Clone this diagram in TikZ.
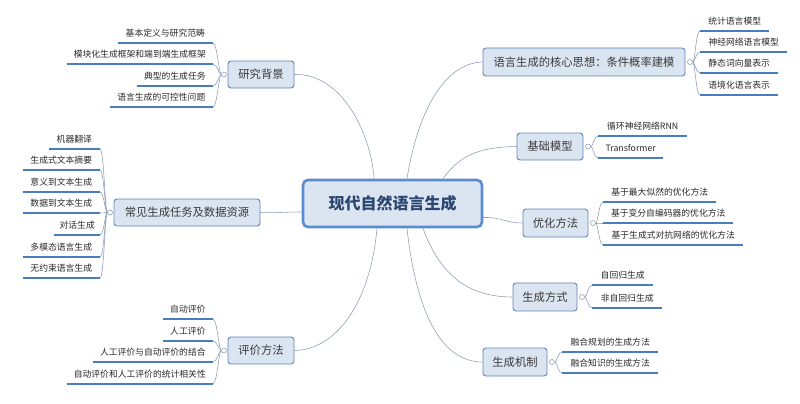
\documentclass[tikz,border=0pt]{standalone}
\usepackage{fontspec}
\setmainfont{Noto Sans CJK SC}
\usetikzlibrary{calc}
\definecolor{boxfill}{HTML}{DBE5F1}
\definecolor{boxline}{HTML}{5F86BA}
\definecolor{cenline}{HTML}{5B8CD2}
\definecolor{centxt}{HTML}{2B4670}
\definecolor{maintxt}{HTML}{3A3A3A}
\definecolor{leaftxt}{HTML}{2A2A2A}
\definecolor{connc}{HTML}{8A9CB8}
\definecolor{ulinec}{HTML}{4A7EBB}
\tikzset{
  mainbox/.style={draw=boxline, fill=boxfill, rounded corners=3pt, line width=0.9pt,
    inner sep=0pt, font=\fontsize{11.3}{13}\selectfont, text=maintxt},
  cenbox/.style={draw=cenline, fill=boxfill, rounded corners=5pt, line width=2.6pt,
    inner sep=0pt, font=\fontsize{16}{18}\selectfont\bfseries, text=centxt},
  leaf/.style={inner xsep=5pt, inner ysep=0pt, text height=7pt, text depth=6.5pt,
    font=\fontsize{8.8}{10}\selectfont, text=leaftxt},
  leafL/.style={leaf, anchor=south east},
  leafR/.style={leaf, anchor=south west},
  uline/.style={draw=ulinec, line width=1.7pt},
  conn/.style={draw=connc, line width=0.55pt},
  circ/.style={circle, draw=connc, fill=white, inner sep=0pt, minimum size=5pt, line width=0.55pt}
}
\begin{document}
\begin{tikzpicture}[x=1pt,y=-1pt]
\useasboundingbox[fill=white] (0,0) rectangle (800,404);

\node[cenbox, minimum width=179pt, minimum height=47pt] (cen) at (392.5,203.5) {现代自然语言生成};

\node[mainbox, minimum width=66pt, minimum height=27pt] (bg) at (261,74.5) {研究背景};
\node[mainbox, minimum width=146pt, minimum height=27pt] (tasks) at (187,212.5) {常见生成任务及数据资源};
\node[mainbox, minimum width=66pt, minimum height=27pt] (eval) at (261,350.5) {评价方法};
\node[mainbox, minimum width=202pt, minimum height=28pt] (core) at (584,62) {语言生成的核心思想：条件概率建模};
\node[mainbox, minimum width=66pt, minimum height=27pt] (base) at (550,146.5) {基础模型};
\node[mainbox, minimum width=65pt, minimum height=28pt] (opt) at (555.5,223) {优化方法};
\node[mainbox, minimum width=64pt, minimum height=28pt] (mode) at (545,297) {生成方式};
\node[mainbox, minimum width=64pt, minimum height=28pt] (mech) at (515,362) {生成机制};

\draw[conn] (bg.east) .. controls (345,73) and (372,140) .. ([xshift=-18.5pt]cen.north);
\draw[conn] ([xshift=14.5pt]cen.north) .. controls (418,110) and (445,63) .. (core.west);
\draw[conn] ([xshift=50.5pt]cen.north) .. controls (460,155) and (480,147) .. (base.west);
\draw[conn] ([yshift=-14pt]cen.east) .. controls (502,217) and (505,223) .. (opt.west);
\draw[conn] ([xshift=30.5pt]cen.south) .. controls (440,275) and (468,297) .. (mode.west);
\draw[conn] ([xshift=14.5pt]cen.south) .. controls (416,310) and (440,362) .. (mech.west);
\draw[conn] ([xshift=-15.5pt]cen.south) .. controls (370,305) and (335,350) .. (eval.east);
\draw[conn] ([yshift=-8.5pt]cen.west) .. controls (285,212) and (280,213) .. (tasks.east);

% collapse circles
\node[circ] (bgc) at (224,74.5) {};
\node[circ] (tasksc) at (110,212.5) {};
\node[circ] (evalc) at (224,350.5) {};
\node[circ] (corec) at (690,62) {};
\node[circ] (basec) at (588,146.5) {};
\node[circ] (optc) at (593,223) {};
\node[circ] (modec) at (582,297) {};
\node[circ] (mechc) at (552,362) {};

% left leaves
\foreach \n/\y/\w/\t in {b1/43/95/基本定义与研究范畴, b2/64/146/模块化生成框架和端到端生成框架,
    b3/86/76/典型的生成任务, b4/107/103/语言生成的可控性问题} {
  \node[leafL, minimum width=\w pt] (\n) at (213,\y) {\t};
  \draw[uline] (\n.south west) -- (\n.south east);
  \draw[conn] (bgc) .. controls +(-5,0) and +(4,0) .. (\n.south east);
}
\foreach \n/\y/\w/\t in {t1/149/51/机器翻译, t2/170/77/生成式文本摘要, t3/192/77/意义到文本生成,
    t4/213/77/数据到文本生成, t5/235/45/对话生成, t6/257/77/多模态语言生成, t7/278/77/无约束语言生成} {
  \node[leafL, minimum width=\w pt] (\n) at (100,\y) {\t};
  \draw[uline] (\n.south west) -- (\n.south east);
  \draw[conn] (tasksc) .. controls +(-5,0) and +(4,0) .. (\n.south east);
}
\foreach \n/\y/\w/\t in {e1/319/50/自动评价, e2/341/50/人工评价, e3/362/120/人工评价与自动评价的结合,
    e4/384/146/自动评价和人工评价的统计相关性} {
  \node[leafL, minimum width=\w pt] (\n) at (213,\y) {\t};
  \draw[uline] (\n.south west) -- (\n.south east);
  \draw[conn] (evalc) .. controls +(-5,0) and +(4,0) .. (\n.south east);
}

% right leaves
\foreach \n/\y/\w/\t in {c1/31/69/统计语言模型, c2/52/87/神经网络语言模型, c3/73/78/静态词向量表示,
    c4/95/78/语境化语言表示} {
  \node[leafR, minimum width=\w pt] (\n) at (700,\y) {\t};
  \draw[uline] (\n.south west) -- (\n.south east);
  \draw[conn] (corec) .. controls +(5,0) and +(-4,0) .. (\n.south west);
}
\foreach \n/\y/\w/\t in {m1/136/89/循环神经网络RNN, m2/158/65/Transformer} {
  \node[leafR, minimum width=\w pt] (\n) at (598,\y) {\t};
  \draw[uline] (\n.south west) -- (\n.south east);
  \draw[conn] (basec) .. controls +(5,0) and +(-4,0) .. (\n.south west);
}
\foreach \n/\y/\w/\t in {o1/202/113/基于最大似然的优化方法, o2/223/130/基于变分自编码器的优化方法,
    o3/245/140/基于生成式对抗网络的优化方法} {
  \node[leafR, minimum width=\w pt] (\n) at (603,\y) {\t};
  \draw[uline] (\n.south west) -- (\n.south east);
  \draw[conn] (optc) .. controls +(5,0) and +(-4,0) .. (\n.south west);
}
\foreach \n/\y/\w/\t in {g1/285/61/自回归生成, g2/308/70/非自回归生成} {
  \node[leafR, minimum width=\w pt] (\n) at (592,\y) {\t};
  \draw[uline] (\n.south west) -- (\n.south east);
  \draw[conn] (modec) .. controls +(5,0) and +(-4,0) .. (\n.south west);
}
\foreach \n/\y/\w/\t in {k1/352/96/融合规划的生成方法, k2/373/96/融合知识的生成方法} {
  \node[leafR, minimum width=\w pt] (\n) at (562,\y) {\t};
  \draw[uline] (\n.south west) -- (\n.south east);
  \draw[conn] (mechc) .. controls +(5,0) and +(-4,0) .. (\n.south west);
}
\end{tikzpicture}
\end{document}
